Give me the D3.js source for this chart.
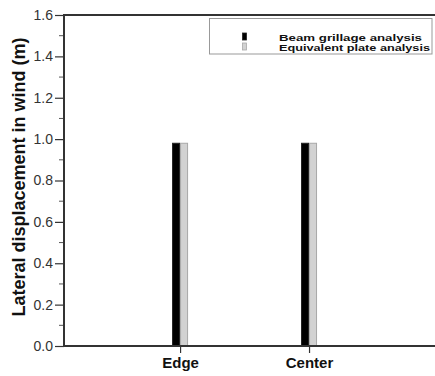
<!DOCTYPE html>
<html>
<head>
<meta charset="utf-8">
<script src="https://cdn.jsdelivr.net/npm/d3@7"></script>
<style>
  html, body { margin: 0; padding: 0; background: #fff; }
  svg { display: block; font-family: "Liberation Sans", Arial, sans-serif; }
</style>
</head>
<body>
<svg id="chart" width="435" height="376"></svg>
<script>
// Lateral displacement per location, two analysis methods
const categories = ["Edge", "Center"];
const seriesNames = ["Beam grillage analysis", "Equivalent plate analysis"];
const beamGrillage = [0.98, 0.98];
const equivalentPlate = [0.98, 0.98];
const yTicks = [0.0, 0.2, 0.4, 0.6, 0.8, 1.0, 1.2, 1.4, 1.6];

const svg = d3.select("#chart");
const plotLeft = 64, plotTop = 15, plotBottom = 346, plotRight = 435;

// categories sit at positions 1 and 2 on a continuous axis
const x = d3.scaleLinear().domain([0.1, 3.0]).range([plotLeft, 438]);
const y = d3.scaleLinear().domain([0, 1.6]).range([plotBottom, plotTop]);
const barW = 8;

const series = [
  { name: seriesNames[0], values: beamGrillage, fill: "#000", stroke: "#222", offset: -barW, len: 143 },
  { name: seriesNames[1], values: equivalentPlate, fill: "#d2d2d2", stroke: "#a8a8a8", offset: 0, len: 151 }
];

// bars
series.forEach(s => {
  svg.append("g").selectAll("rect")
    .data(categories)
    .join("rect")
    .attr("x", (d, i) => x(i + 1) + s.offset + 0.5)
    .attr("y", (d, i) => y(s.values[i]))
    .attr("width", barW - 1)
    .attr("height", (d, i) => y(0) - y(s.values[i]))
    .attr("fill", s.fill)
    .attr("stroke", s.stroke)
    .attr("stroke-width", 1);
});

// y axis: major ticks with labels, minor ticks between
const yAxis = d3.axisLeft(y).tickValues(yTicks).tickFormat(d3.format(".1f")).tickSize(9).tickPadding(2);
const gy = svg.append("g").attr("transform", `translate(${plotLeft},0)`).call(yAxis);
gy.select(".domain").remove();
gy.selectAll(".tick line").attr("stroke", "#333").attr("stroke-width", 1.2);
gy.selectAll(".tick text").attr("font-size", 14).attr("fill", "#333")
  .attr("font-family", "Liberation Sans, Arial, sans-serif");

const minor = d3.range(1, 16, 2).map(v => v / 10);
svg.append("g").selectAll("line").data(minor).join("line")
  .attr("x1", plotLeft - 5).attr("x2", plotLeft)
  .attr("y1", d => y(d)).attr("y2", d => y(d))
  .attr("stroke", "#555").attr("stroke-width", 1);

// x axis ticks and labels
const xAxis = d3.axisBottom(x).tickValues([1, 2]).tickFormat((d) => categories[d - 1]).tickSize(7).tickPadding(4);
const gx = svg.append("g").attr("transform", `translate(0,${plotBottom})`).call(xAxis);
gx.select(".domain").remove();
gx.selectAll(".tick line").attr("stroke", "#333").attr("stroke-width", 1.2);
gx.selectAll(".tick text").attr("font-size", 15).attr("font-weight", "bold").attr("fill", "#111")
  .attr("font-family", "Liberation Sans, Arial, sans-serif");

// frame lines
const frame = svg.append("g").attr("stroke", "#333").attr("stroke-width", 2);
frame.append("line").attr("x1", plotLeft).attr("x2", plotRight).attr("y1", plotTop).attr("y2", plotTop);
frame.append("line").attr("x1", plotLeft).attr("x2", plotRight).attr("y1", plotBottom).attr("y2", plotBottom);
frame.append("line").attr("x1", plotLeft).attr("x2", plotLeft).attr("y1", plotTop - 1).attr("y2", plotBottom + 1);

// y axis title
svg.append("text")
  .attr("transform", `translate(25,177) rotate(-90)`)
  .attr("text-anchor", "middle")
  .attr("font-size", 18).attr("font-weight", "bold").attr("fill", "#111")
  .text("Lateral displacement in wind (m)");

// legend
const lg = svg.append("g");
lg.append("rect").attr("x", 209.5).attr("y", 18.5).attr("width", 222.5).attr("height", 35.5)
  .attr("fill", "#fff").attr("stroke", "#999").attr("stroke-width", 1);
series.forEach((s, i) => {
  lg.append("rect").attr("x", 242.5).attr("y", 33 + i * 10).attr("width", 4).attr("height", 7)
    .attr("fill", s.fill).attr("stroke", s.stroke).attr("stroke-width", 0.8);
  lg.append("text").attr("x", 279).attr("y", 40.5 + i * 10)
    .attr("font-size", 9.5).attr("font-weight", "bold").attr("fill", "#111")
    .attr("textLength", s.len).attr("lengthAdjust", "spacingAndGlyphs")
    .text(s.name);
});
</script>
</body>
</html>
